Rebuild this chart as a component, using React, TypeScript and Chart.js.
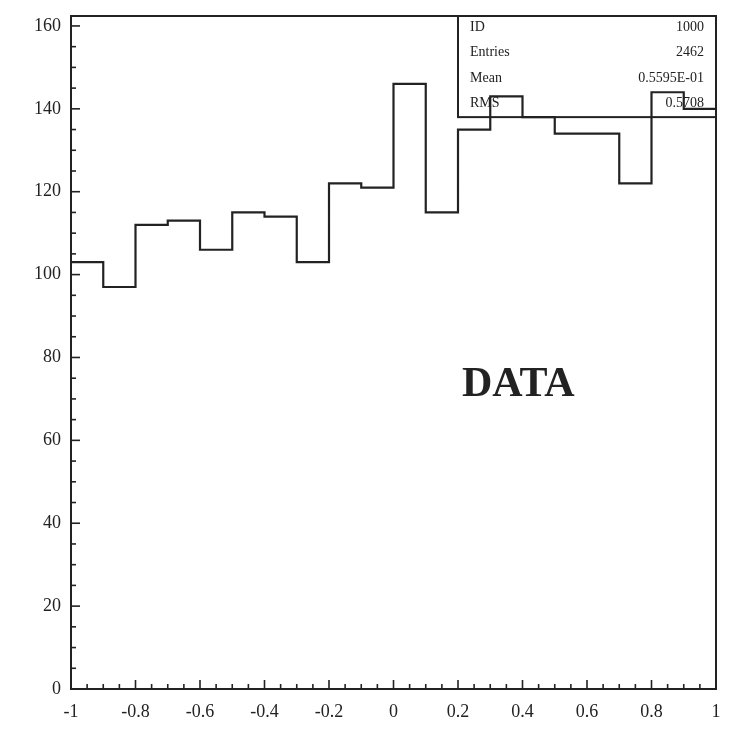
import React, { useEffect, useRef } from "react";
import { Chart, registerables } from "chart.js";

Chart.register(...registerables);

// ---- data ----
const binEdges = [-1, -0.9, -0.8, -0.7, -0.6, -0.5, -0.4, -0.3, -0.2, -0.1, 0, 0.1, 0.2, 0.3, 0.4, 0.5, 0.6, 0.7, 0.8, 0.9, 1];
const counts = [103, 97, 112, 113, 106, 115, 114, 103, 122, 121, 146, 115, 135, 143, 138, 134, 134, 122, 144, 140];
const xTickLabels = ["-1", "-0.8", "-0.6", "-0.4", "-0.2", "0", "0.2", "0.4", "0.6", "0.8", "1"];
const yTickLabels = ["0", "20", "40", "60", "80", "100", "120", "140", "160"];
const statLabels = ["ID", "Entries", "Mean", "RMS"];
const statValues = ["1000", "2462", "0.5595E-01", "0.5708"];
const annotationText = "DATA";

const X_MIN = -1;
const X_MAX = 1;
const Y_MIN = 0;
const Y_MAX = 162.4;
const STATS_BOX = { x0: 0.2, x1: 1, yBottom: 138 };
const ANNOT_POS = { x: 0.387, y: 73.4 };

const INK = "#222";
const SERIF = "'Liberation Serif', 'Times New Roman', serif";

const framePlugin = {
  id: "histFrame",
  afterDraw(chart: any) {
    const { ctx, chartArea: a, scales } = chart;
    const xs = scales.x;
    const ys = scales.y;
    ctx.save();
    ctx.strokeStyle = INK;
    ctx.lineWidth = 2;
    ctx.lineCap = "butt";
    // frame
    ctx.strokeRect(a.left, a.top, a.right - a.left, a.bottom - a.top);

    // inward ticks on y axis: every 5 units, major every 20
    ctx.lineWidth = 1.6;
    for (let i = 0; i * 5 <= 160; i++) {
      const v = i * 5;
      const py = ys.getPixelForValue(v);
      const len = v % 20 === 0 ? 9 : 5;
      ctx.beginPath();
      ctx.moveTo(a.left, py);
      ctx.lineTo(a.left + len, py);
      ctx.stroke();
    }
    // inward ticks on x axis: every 0.05, major every 0.2
    for (let i = 0; i <= 40; i++) {
      const v = X_MIN + i * 0.05;
      const px = xs.getPixelForValue(v);
      const len = i % 4 === 0 ? 9 : 5;
      ctx.beginPath();
      ctx.moveTo(px, a.bottom);
      ctx.lineTo(px, a.bottom - len);
      ctx.stroke();
    }

    // stats box
    const bx0 = xs.getPixelForValue(STATS_BOX.x0);
    const bx1 = xs.getPixelForValue(STATS_BOX.x1);
    const by0 = a.top;
    const by1 = ys.getPixelForValue(STATS_BOX.yBottom);
    ctx.lineWidth = 2;
    ctx.strokeRect(bx0, by0, bx1 - bx0, by1 - by0);
    ctx.fillStyle = INK;
    ctx.font = `14px ${SERIF}`;
    ctx.textBaseline = "middle";
    const rowH = (by1 - by0) / statLabels.length;
    statLabels.forEach((lab, i) => {
      const cy = by0 + rowH * (i + 0.45);
      ctx.textAlign = "left";
      ctx.fillText(lab, bx0 + 12, cy);
      ctx.textAlign = "right";
      ctx.fillText(statValues[i], bx1 - 12, cy);
    });

    // DATA annotation
    ctx.font = `bold 42px ${SERIF}`;
    ctx.textAlign = "center";
    ctx.textBaseline = "middle";
    ctx.fillText(annotationText, xs.getPixelForValue(ANNOT_POS.x), ys.getPixelForValue(ANNOT_POS.y));
    ctx.restore();
  },
};

const zeroPad = (s: any) => {
  s.paddingTop = 0;
  s.paddingBottom = 0;
  s.paddingLeft = 0;
  s.paddingRight = 0;
};

export default function App() {
  const ref = useRef<HTMLCanvasElement | null>(null);

  useEffect(() => {
    const canvas = ref.current;
    if (!canvas) return;
    const points = counts.map((c, i) => ({ x: binEdges[i], y: c }));
    points.push({ x: binEdges[binEdges.length - 1], y: counts[counts.length - 1] });

    const chart = new Chart(canvas, {
      type: "line",
      data: {
        datasets: [
          {
            data: points,
            stepped: "before" as any,
            borderColor: INK,
            borderWidth: 2.2,
            pointRadius: 0,
            fill: false,
          },
        ],
      },
      options: {
        animation: false,
        responsive: false,
        maintainAspectRatio: false,
        layout: { padding: { top: 16, right: 15, left: 0, bottom: 0 } },
        plugins: { legend: { display: false }, tooltip: { enabled: false } },
        scales: {
          x: {
            type: "linear",
            min: X_MIN,
            max: X_MAX,
            grid: { display: false, drawTicks: false },
            border: { display: false },
            afterFit: (s: any) => {
              s.height = 41;
              zeroPad(s);
            },
            ticks: {
              stepSize: 0.2,
              includeBounds: false,
              maxRotation: 0,
              autoSkip: false,
              padding: 12,
              color: INK,
              font: { family: SERIF, size: 18 },
              callback: (_v: any, idx: number) => xTickLabels[idx] ?? "",
            },
          },
          y: {
            type: "linear",
            min: Y_MIN,
            max: Y_MAX,
            grid: { display: false, drawTicks: false },
            border: { display: false },
            afterFit: (s: any) => {
              s.width = 71;
              zeroPad(s);
            },
            ticks: {
              stepSize: 20,
              includeBounds: false,
              autoSkip: false,
              padding: 10,
              color: INK,
              font: { family: SERIF, size: 18 },
              callback: (_v: any, idx: number) => yTickLabels[idx] ?? "",
            },
          },
        },
      },
      plugins: [framePlugin],
    });
    return () => chart.destroy();
  }, []);

  return (
    <div style={{ position: "fixed", left: 0, top: 0, width: 731, height: 730, background: "#fff" }}>
      <canvas ref={ref} width={731} height={730} style={{ display: "block" }} />
    </div>
  );
}
